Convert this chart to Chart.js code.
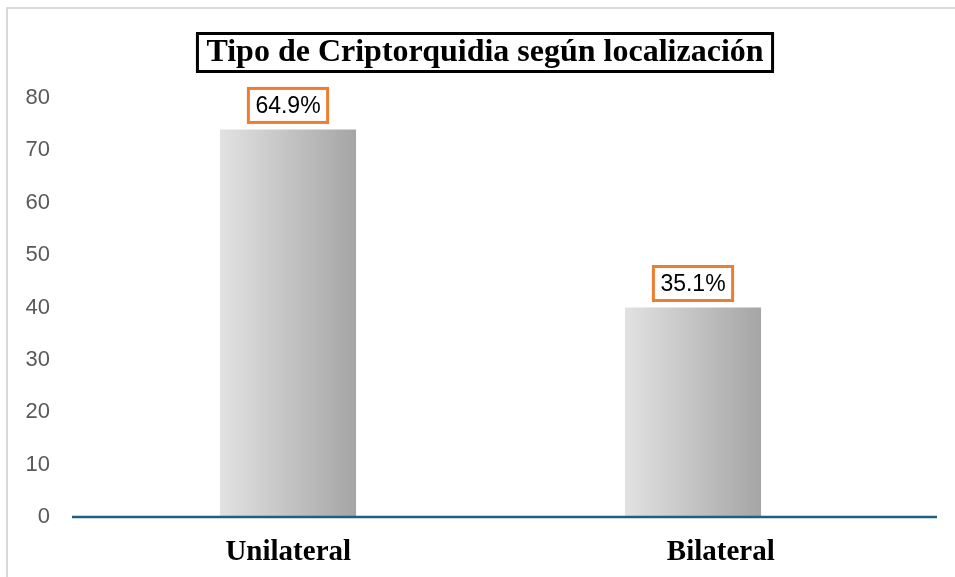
<!DOCTYPE html>
<html>
<head>
<meta charset="utf-8">
<script src="https://cdn.jsdelivr.net/npm/chart.js@4"></script>
<style>
  html, body { margin: 0; padding: 0; background: #fff; }
  #wrap { width: 955px; height: 577px; }
</style>
</head>
<body>
<div id="wrap"><canvas id="tipoChart" width="955" height="577"></canvas></div>
<script>
// Tipo de criptorquidia segun localizacion

const categories = ['Unilateral', 'Bilateral']
const counts = [74, 40]
const yTicks = [0, 10, 20, 30, 40, 50, 60, 70, 80]
const chartTitle = 'Tipo de Criptorquidia según localización'

const total = counts.reduce((a, b) => a + b, 0)
const percentLabels = counts.map(v => (v / total * 100).toFixed(1) + '%')

// axis line runs wider than the bar slots
const axisLeft = 72
const axisRight = 937

// gray frame at top/left, boxed title, axis line and category labels
const framePlugin = {
  id: 'frame',
  beforeDraw(chart) {
    const c = chart.ctx
    c.save()
    c.fillStyle = '#fff'
    c.fillRect(0, 0, chart.width, chart.height)
    c.strokeStyle = '#d9d9d9'
    c.lineWidth = 2
    c.beginPath()
    c.moveTo(7, chart.height)
    c.lineTo(7, 8)
    c.lineTo(chart.width, 8)
    c.stroke()
    c.restore()
  },
  afterDatasetsDraw(chart) {
    const c = chart.ctx
    const y0 = chart.scales.y.getPixelForValue(0)
    c.save()
    c.strokeStyle = '#1F5F86'
    c.lineWidth = 2.5
    c.beginPath()
    c.moveTo(axisLeft, y0)
    c.lineTo(axisRight, y0)
    c.stroke()

    // category labels, spread evenly along the axis line
    c.font = 'bold 29px "Liberation Serif", "Times New Roman", serif'
    c.textAlign = 'center'
    c.textBaseline = 'middle'
    c.fillStyle = '#000'
    const step = (axisRight - axisLeft) / categories.length
    categories.forEach((lab, i) => {
      c.fillText(lab, axisLeft + step * (i + 0.5), y0 + 36)
    })
    c.restore()
  },
  afterDraw(chart) {
    const c = chart.ctx
    c.save()
    c.font = 'bold 32px "Liberation Serif", "Times New Roman", serif'
    c.textAlign = 'center'
    c.textBaseline = 'middle'
    c.fillStyle = '#000'
    const cx = 485
    const w = c.measureText(chartTitle).width
    c.fillText(chartTitle, cx, 53)
    c.strokeStyle = '#000'
    c.lineWidth = 3
    c.strokeRect(cx - w / 2 - 9, 33.5, w + 18, 38)
    c.restore()
  }
}

// percentage boxes above the bars
const boxLabels = {
  id: 'boxLabels',
  afterDatasetsDraw(chart) {
    const c = chart.ctx
    const meta = chart.getDatasetMeta(0)
    c.save()
    c.font = '23px "Liberation Sans", Arial, sans-serif'
    c.textAlign = 'center'
    c.textBaseline = 'middle'
    meta.data.forEach((bar, i) => {
      const txt = percentLabels[i]
      const w = c.measureText(txt).width + 14
      const h = 34
      const x = bar.x
      const y = bar.y - 7 - h / 2
      c.fillStyle = '#fff'
      c.fillRect(x - w / 2, y - h / 2, w, h)
      c.strokeStyle = '#ED7D31'
      c.lineWidth = 3
      c.strokeRect(x - w / 2, y - h / 2, w, h)
      c.fillStyle = '#000'
      c.fillText(txt, x, y + 1)
    })
    c.restore()
  }
}

const barPct = 0.336

function barGradient(context) {
  const chart = context.chart
  const xs = chart.scales.x
  if (!chart.chartArea || !xs) return '#c8c8c8'
  const cx = xs.getPixelForValue(context.dataIndex)
  const half = (xs.width / categories.length) * barPct / 2
  const g = chart.ctx.createLinearGradient(cx - half, 0, cx + half, 0)
  g.addColorStop(0, '#e2e2e2')
  g.addColorStop(1, '#a5a5a5')
  return g
}

const ctx = document.getElementById('tipoChart').getContext('2d')
const tipoChart = new Chart(ctx, {
  type: 'bar',
  data: {
    labels: categories,
    datasets: [{
      label: 'Pacientes',
      data: counts,
      backgroundColor: barGradient,
      borderWidth: 0,
      barPercentage: barPct,
      categoryPercentage: 1
    }]
  },
  options: {
    responsive: false,
    animation: false,
    layout: { padding: { top: 98, right: 59.5, left: 0, bottom: 0 } },
    plugins: {
      legend: { display: false },
      title: { display: false },
      tooltip: { enabled: false }
    },
    scales: {
      x: {
        grid: { display: false, drawTicks: false },
        border: { display: false },
        ticks: { display: false },
        afterFit(scale) { scale.height = 60 }
      },
      y: {
        min: 0,
        max: 80,
        afterBuildTicks(scale) { scale.ticks = yTicks.map(v => ({ value: v })) },
        grid: { display: false, drawTicks: false },
        border: { display: false },
        ticks: {
          color: '#595959',
          padding: 35.5,
          font: { family: '"Liberation Sans", Arial, sans-serif', size: 22 }
        },
        afterFit(scale) { scale.width = 85.5 }
      }
    }
  },
  plugins: [framePlugin, boxLabels]
})
</script>
</body>
</html>
